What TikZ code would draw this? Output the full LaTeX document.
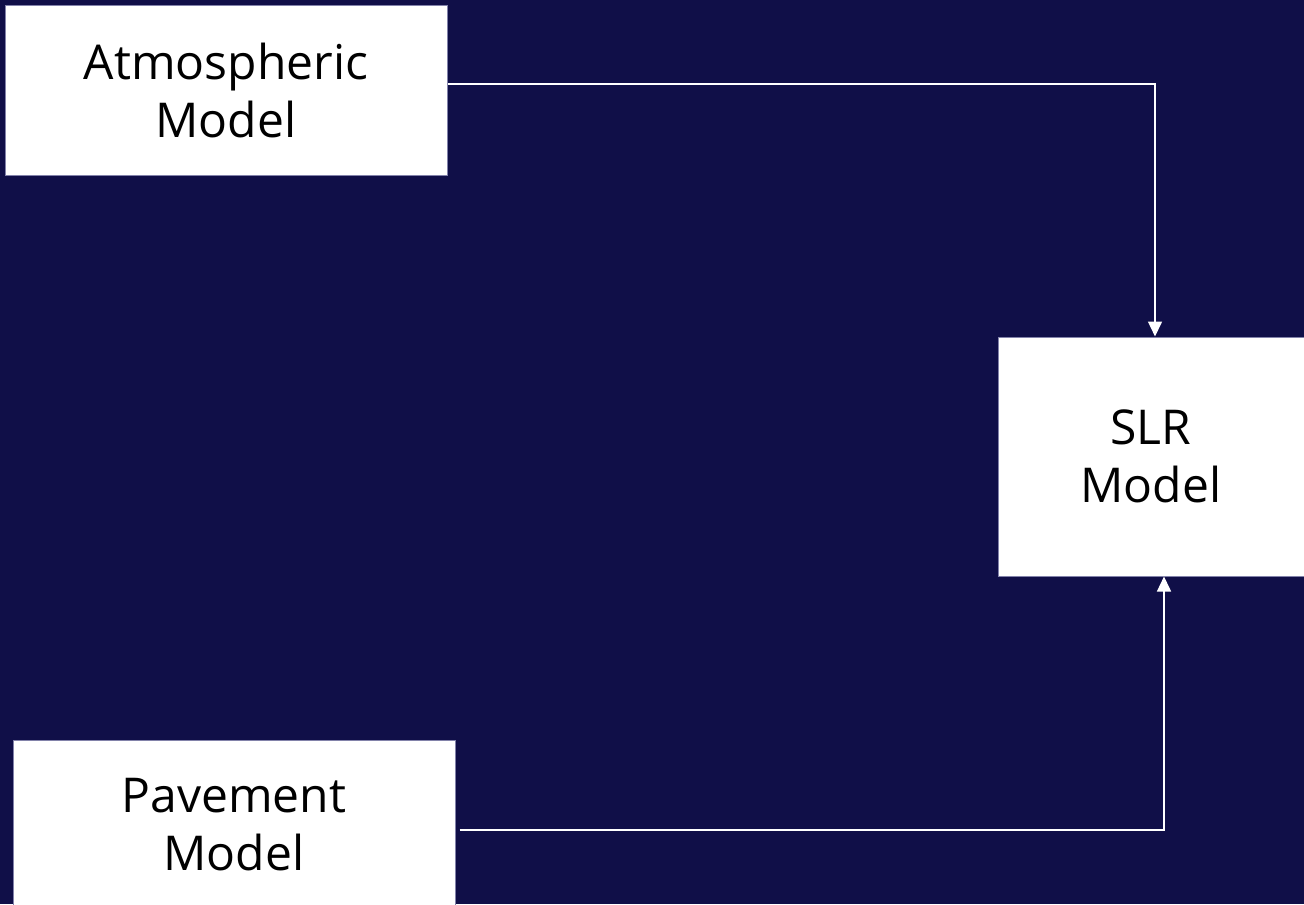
\documentclass[tikz,border=0pt]{standalone}
\usepackage{fontspec}
\setmainfont{Open Sans}
\usetikzlibrary{arrows.meta,calc}
\definecolor{bg}{RGB}{16,15,72}
\definecolor{edge}{RGB}{130,130,170}
\tikzset{
  modelbox/.style={draw=edge, line width=0.5pt, fill=white, align=center, inner sep=0pt,
    font=\fontsize{24}{29}\selectfont, text=black},
  conn/.style={draw=white, line width=0.75pt, -{Triangle[width=7pt,length=7.5pt]}}
}
\begin{document}
\begin{tikzpicture}[x=0.5pt,y=-0.5pt]
\fill[bg] (0,0) rectangle (1304,904);
\useasboundingbox (0,0) rectangle (1304,904);
\node[modelbox, minimum width=221pt, minimum height=84.5pt] (atm) at (226,90.5) {Atmospheric\\Model};
\node[modelbox, minimum width=153pt, minimum height=119.5pt] (slr) at (1151,456.5) {SLR\\Model};
\node[modelbox, minimum width=221pt, minimum height=85pt] (pav) at (234,825) {Pavement\\Model};
\draw[conn] ([yshift=3.25pt]atm.east) -| ([xshift=2pt]slr.north);
\draw[conn] ([yshift=-2.5pt,xshift=2pt]pav.east) -| ([xshift=6.5pt]slr.south);
\end{tikzpicture}
\end{document}
